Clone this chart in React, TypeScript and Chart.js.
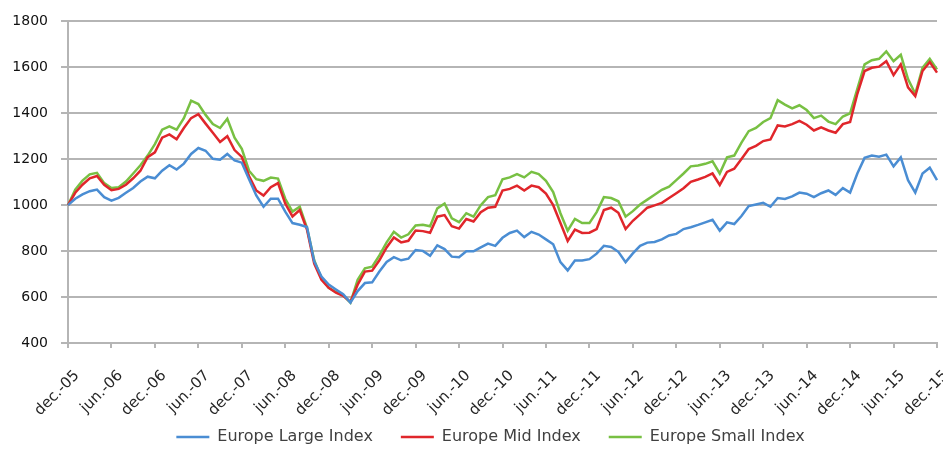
import React, { useEffect, useRef } from 'react';
import { Chart, registerables } from 'chart.js';

Chart.register(...registerables);

// Dutch month abbreviations, Excel style "mmm.-yy"
const monthNames = ['jan.', 'feb.', 'mrt.', 'apr.', 'mei', 'jun.', 'jul.', 'aug.', 'sep.', 'okt.', 'nov.', 'dec.'];
const months: string[] = [];
for (let i = 0; i < 121; i++) {
  const m = (11 + i) % 12;
  const y = 2005 + Math.floor((11 + i) / 12);
  months.push(`${monthNames[m]}-${String(y % 100).padStart(2, '0')}`);
}

const yTickMin = 400;
const yTickMax = 1800;
const yTickStep = 200;

const europeLarge = [
  1000, 1028, 1047, 1061, 1068, 1035, 1020, 1032, 1054, 1075,
  1103, 1124, 1117, 1150, 1174, 1155, 1181, 1223, 1249, 1237,
  1202, 1198, 1223, 1195, 1185, 1113, 1042, 993, 1028, 1028,
  972, 922, 915, 905, 755, 689, 654, 633, 612, 576,
  626, 661, 664, 711, 753, 774, 760, 767, 805, 801,
  780, 825, 809, 776, 773, 799, 799, 816, 833, 823,
  858, 879, 889, 861, 884, 872, 851, 830, 752, 716,
  759, 759, 765, 789, 823, 818, 797, 752, 790, 823,
  837, 840, 851, 868, 875, 896, 904, 914, 925, 936,
  889, 925, 918, 953, 996, 1003, 1010, 993, 1031, 1027,
  1038, 1055, 1050, 1035, 1052, 1064, 1045, 1074, 1055, 1138,
  1206, 1216, 1211, 1220, 1169, 1208, 1109, 1055, 1138, 1163,
  1109,
];

const europeMid = [
  1000, 1054, 1089, 1117, 1127, 1089, 1065, 1071, 1089, 1117,
  1150, 1209, 1230, 1294, 1308, 1287, 1336, 1379, 1396, 1355,
  1315, 1275, 1300, 1240, 1210, 1127, 1064, 1042, 1078, 1096,
  1007, 951, 979, 894, 746, 675, 640, 619, 605, 579,
  654, 711, 715, 760, 816, 859, 838, 845, 890, 887,
  880, 950, 957, 908, 898, 940, 929, 969, 989, 993,
  1064, 1071, 1085, 1064, 1085, 1078, 1050, 1000, 922, 844,
  894, 879, 880, 896, 979, 989, 967, 896, 932, 960,
  989, 999, 1010, 1031, 1052, 1074, 1102, 1112, 1123, 1138,
  1088, 1145, 1159, 1201, 1244, 1258, 1279, 1286, 1347, 1343,
  1353, 1367, 1350, 1325, 1339, 1325, 1315, 1353, 1362, 1485,
  1584, 1598, 1603, 1627, 1566, 1613, 1513, 1475, 1584, 1623,
  1577,
];

const europeSmall = [
  1000, 1068, 1107, 1134, 1141, 1096, 1075, 1078, 1103, 1138,
  1174, 1216, 1266, 1329, 1343, 1329, 1379, 1455, 1440, 1393,
  1353, 1336, 1376, 1294, 1245, 1150, 1113, 1106, 1120, 1116,
  1028, 972, 993, 901, 760, 682, 640, 622, 607, 576,
  675, 725, 732, 781, 838, 884, 859, 873, 912, 915,
  908, 986, 1007, 943, 926, 965, 950, 1000, 1035, 1043,
  1113, 1121, 1135, 1121, 1145, 1135, 1106, 1057, 965, 889,
  940, 922, 922, 970, 1035, 1031, 1017, 950, 974, 1003,
  1024, 1045, 1067, 1081, 1109, 1138, 1169, 1173, 1180, 1191,
  1138, 1208, 1216, 1272, 1322, 1336, 1362, 1379, 1457, 1438,
  1421, 1435, 1414, 1379, 1390, 1364, 1353, 1386, 1400, 1506,
  1613, 1631, 1637, 1669, 1627, 1655, 1549, 1485, 1598, 1637,
  1591,
];

const seriesNames = ['Europe Large Index', 'Europe Mid Index', 'Europe Small Index'];
const seriesColors = ['#4A8DD3', '#E0262B', '#78C043'];

const FONT = "'DejaVu Sans', sans-serif";
const GRID = '#B5B5B5';

// moves the (centred) legend row right and its box top up, as in the reference
const legendShift = {
  id: 'legendShift',
  afterLayout(chart: any) {
    const lg = chart.legend;
    if (lg) {
      lg.left += 22;
      lg.right += 22;
      lg.top -= 17;
    }
  },
};

export default function App() {
  const ref = useRef<HTMLCanvasElement | null>(null);

  useEffect(() => {
    if (!ref.current) return;
    const chart = new Chart(ref.current, {
      type: 'line',
      data: {
        labels: months,
        datasets: [europeLarge, europeMid, europeSmall].map((d, i) => ({
          label: seriesNames[i],
          data: d,
          borderColor: seriesColors[i],
          backgroundColor: seriesColors[i],
          borderWidth: 2.5,
          pointRadius: 0,
          tension: 0,
          fill: false,
        })),
      },
      options: {
        responsive: false,
        animation: false,
        layout: { padding: { left: 0, right: 6, top: 15, bottom: 0 } },
        scales: {
          x: {
            type: 'category',
            grid: {
              display: true,
              drawOnChartArea: false,
              drawTicks: true,
              tickLength: 5,
              lineWidth: 2,
              tickColor: (ctx: any) => (ctx.index % 6 === 0 ? GRID : 'rgba(0,0,0,0)'),
            },
            border: { color: GRID, width: 2 },
            ticks: {
              autoSkip: false,
              maxRotation: 45,
              minRotation: 45,
              padding: 19,
              labelOffset: 9,
              color: '#262626',
              font: { family: FONT, size: 15 },
              callback: function (this: any, v: any, i: number) {
                return i % 6 === 0 ? this.getLabelForValue(v) : '';
              },
            },
            afterFit: (s: any) => {
              s.height = 75;
              s.paddingLeft = 0;
              s.paddingRight = 0;
            },
          },
          y: {
            min: yTickMin,
            max: yTickMax,
            ticks: {
              stepSize: yTickStep,
              padding: 13,
              color: '#111111',
              font: { family: FONT, size: 14 },
              callback: (v: any) => String(v),
            },
            grid: { color: GRID, lineWidth: 2, tickLength: 7, drawTicks: true },
            border: { color: GRID, width: 2 },
            afterFit: (s: any) => {
              s.width = 68;
            },
          },
        },
        plugins: {
          legend: {
            position: 'bottom',
            maxHeight: 34,
            labels: {
              usePointStyle: true,
              pointStyle: 'line',
              pointStyleWidth: 33,
              padding: 28,
              color: '#404040',
              font: { family: FONT, size: 16 },
            },
          },
          tooltip: { enabled: false },
        },
      } as any,
      plugins: [legendShift],
    });
    return () => chart.destroy();
  }, []);

  return (
    <div style={{ position: 'absolute', left: 0, top: 0, width: 943, height: 452, background: '#fff' }}>
      <canvas ref={ref} width={943} height={452} />
    </div>
  );
}
